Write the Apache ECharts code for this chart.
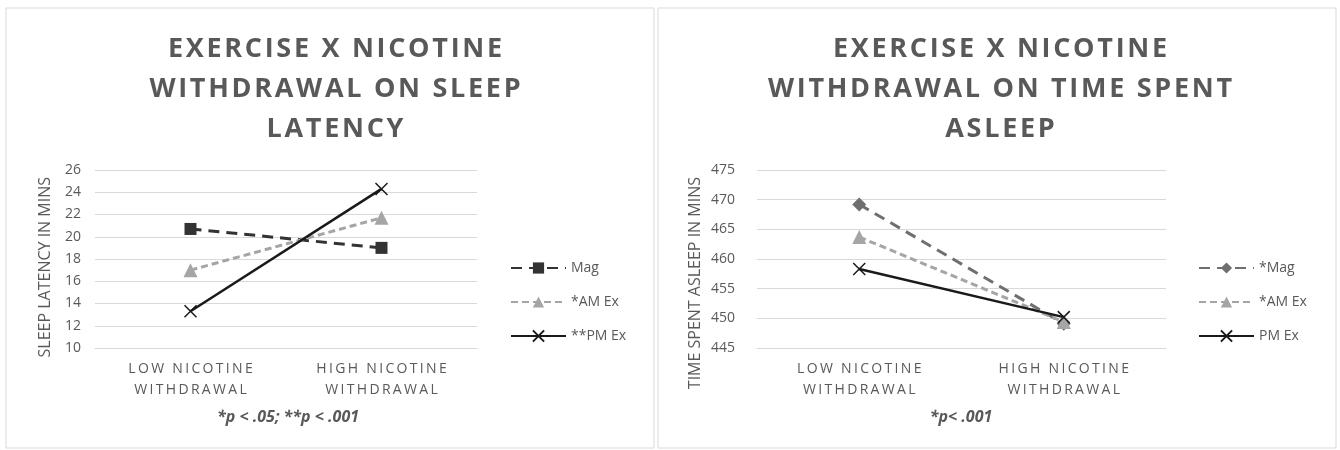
<!DOCTYPE html>
<html>
<head>
<meta charset="utf-8">
<style>
    html, body { margin: 0; padding: 0; background: #fff; }
    #chartContainer { width: 1340px; height: 450px; }
</style>
<script src="https://cdn.jsdelivr.net/npm/echarts@6/dist/echarts.min.js"></script>
</head>
<body>
<div id="chartContainer"></div>
<script>
'use strict';

var categories = [ 'LOW NICOTINE\nWITHDRAWAL', 'HIGH NICOTINE\nWITHDRAWAL' ];

// sleep latency (mins)
var latencyNames = [ 'Mag', '*AM Ex', '**PM Ex' ];
var latencyMag = [ 20.7, 19.0 ];
var latencyAm = [ 17.0, 21.7 ];
var latencyPm = [ 13.3, 24.3 ];

// time spent asleep (mins)
var asleepNames = [ '*Mag', '*AM Ex', 'PM Ex' ];
var asleepMag = [ 469.2, 449.1 ];
var asleepAm = [ 463.7, 449.4 ];
var asleepPm = [ 458.3, 450.2 ];

var TEXT = '#595959';
var GRID_LINE = '#d9d9d9';
var FONT = '"Open Sans", "Liberation Sans", sans-serif';
var X_SYMBOL = 'path://M0,0L10,10M10,0L0,10';

var container = document.getElementById('chartContainer');
var chart = echarts.init(container, null, { renderer: 'canvas' });

// excel draws these labels letter-spaced, fake it with small spaces
function spaced(str, gap) {
    return str.split('\n').map(function (line) {
        return line.split('').join(gap);
    }).join('\n');
}

function makeXAxis(gridIndex) {
    return {
        type : 'category',
        gridIndex : gridIndex,
        data : categories,
        boundaryGap : true,
        axisLine : { lineStyle : { color : GRID_LINE, width : 1 } },
        axisTick : { show : false },
        axisLabel : {
            color : TEXT,
            fontFamily : FONT,
            fontSize : 14,
            lineHeight : 21,
            margin : 11,
            formatter : function (v) { return spaced(v, '\u2009'); }
        }
    };
}

function makeYAxis(gridIndex, min, max, interval, margin) {
    return {
        type : 'value',
        gridIndex : gridIndex,
        min : min,
        max : max,
        interval : interval,
        axisLine : { show : false },
        axisTick : { show : false },
        axisLabel : { color : TEXT, fontFamily : FONT, fontSize : 14, margin : margin },
        splitLine : { lineStyle : { color : GRID_LINE, width : 1 } }
    };
}

function magSeries(name, idx, data, symbol, color, size) {
    return {
        name : name, type : 'line', xAxisIndex : idx, yAxisIndex : idx,
        data : data, symbol : symbol, symbolSize : size,
        lineStyle : { color : color, width : 3, type : [ 11, 7 ] },
        itemStyle : { color : color }
    };
}

function amSeries(name, idx, data) {
    return {
        name : name, type : 'line', xAxisIndex : idx, yAxisIndex : idx,
        data : data, symbol : 'triangle', symbolSize : 14,
        lineStyle : { color : '#a5a5a5', width : 3, type : [ 7, 4 ] },
        itemStyle : { color : '#a5a5a5' }
    };
}

function pmSeries(name, idx, data) {
    return {
        name : name, type : 'line', xAxisIndex : idx, yAxisIndex : idx,
        data : data, symbol : X_SYMBOL, symbolSize : 12,
        lineStyle : { color : '#1a1a1a', width : 2.5 },
        itemStyle : { color : '#1a1a1a', borderColor : '#1a1a1a', borderWidth : 1.5 }
    };
}

function makeLegend(names, left) {
    return {
        orient : 'vertical',
        left : left,
        top : 256,
        itemWidth : 55,
        itemHeight : 14,
        itemGap : 20,
        data : names,
        textStyle : { color : TEXT, fontFamily : FONT, fontSize : 14 }
    };
}

function makeTitle(text, center) {
    return {
        text : spaced(text, '\u200A'),
        left : center,
        top : 24,
        textAlign : 'center',
        textStyle : {
            color : TEXT, fontFamily : FONT, fontWeight : 'bold',
            fontSize : 27, lineHeight : 40
        }
    };
}

function axisTitle(text, x, y) {
    return {
        type : 'text', x : x, y : y, rotation : Math.PI / 2,
        style : {
            text : text, fill : TEXT, font : '16px ' + FONT,
            align : 'right', verticalAlign : 'middle'
        }
    };
}

function footnote(text, x) {
    return {
        type : 'text', x : x, y : 417,
        style : {
            text : text, fill : TEXT, font : 'italic bold 16px ' + FONT,
            align : 'center', verticalAlign : 'middle'
        }
    };
}

var option = {
    animation : false,
    backgroundColor : '#fff',
    title : [
        makeTitle('EXERCISE X NICOTINE\nWITHDRAWAL ON SLEEP\nLATENCY', 330),
        makeTitle('EXERCISE X NICOTINE\nWITHDRAWAL ON TIME SPENT\nASLEEP', 995)
    ],
    legend : [
        makeLegend(latencyNames, 505),
        makeLegend(asleepNames, 1193)
    ],
    grid : [
        { left : 95, top : 170, width : 382, height : 178 },
        { left : 757, top : 170, width : 409, height : 178 }
    ],
    xAxis : [ makeXAxis(0), makeXAxis(1) ],
    yAxis : [ makeYAxis(0, 10, 26, 2, 14), makeYAxis(1, 445, 475, 5, 22) ],
    series : [
        magSeries(latencyNames[0], 0, latencyMag, 'rect', '#333333', 12),
        amSeries(latencyNames[1], 0, latencyAm),
        pmSeries(latencyNames[2], 0, latencyPm),
        magSeries(asleepNames[0], 1, asleepMag, 'diamond', '#6f6f6f', 14),
        amSeries(asleepNames[1], 1, asleepAm),
        pmSeries(asleepNames[2], 1, asleepPm)
    ],
    graphic : [
        { type : 'rect', shape : { x : 6, y : 8, width : 648, height : 440 },
          style : { fill : 'none', stroke : GRID_LINE, lineWidth : 1 } },
        { type : 'rect', shape : { x : 658, y : 8, width : 678, height : 440 },
          style : { fill : 'none', stroke : GRID_LINE, lineWidth : 1 } },
        axisTitle('SLEEP LATENCY IN MINS', 45, 177),
        axisTitle('TIME SPENT ASLEEP IN MINS', 695, 177),
        footnote('*p < .05; **p < .001', 288),
        footnote('*p< .001', 961)
    ]
};

chart.setOption(option);
</script>
</body>
</html>
